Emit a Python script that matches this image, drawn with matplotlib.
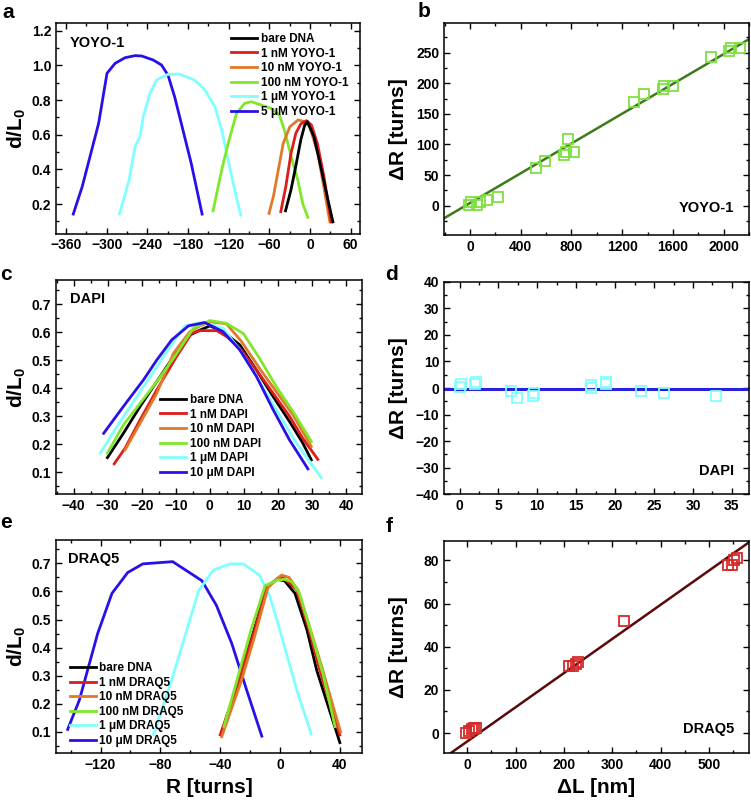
import matplotlib
matplotlib.use("Agg")
import matplotlib.pyplot as plt
from matplotlib.ticker import MultipleLocator

plt.rcParams['font.family'] = ['Liberation Sans', 'DejaVu Sans']
plt.rcParams['font.weight'] = 'bold'
plt.rcParams['mathtext.fontset'] = 'custom'
plt.rcParams['mathtext.rm'] = 'Liberation Sans:bold'
plt.rcParams['mathtext.bf'] = 'Liberation Sans:bold'
plt.rcParams['mathtext.default'] = 'bf'

# ---------------- Panel a : YOYO-1 ----------------
yoyo_labels = ["bare DNA", "1 nM YOYO-1", "10 nM YOYO-1", "100 nM YOYO-1", "1 \u03bcM YOYO-1", "5 \u03bcM YOYO-1"]
yoyo_bare_R = [-36, -28, -21, -13.5, -7.6, -3.7, 6, 16, 25.6, 34]
yoyo_bare_d = [0.161, 0.281, 0.415, 0.569, 0.656, 0.675, 0.588, 0.415, 0.242, 0.097]
yoyo_1nM_R = [-43, -35.6, -28, -20.8, -13.5, -5.1, 2.2, 11, 20.8, 31.5]
yoyo_1nM_d = [0.156, 0.30, 0.49, 0.608, 0.662, 0.681, 0.656, 0.55, 0.357, 0.097]
yoyo_10nM_R = [-60.4, -54, -46.7, -39.4, -29.6, -17.4, -7.6, -0.3, 11.9, 29.5]
yoyo_10nM_d = [0.146, 0.242, 0.396, 0.55, 0.646, 0.685, 0.675, 0.646, 0.49, 0.097]
yoyo_100nM_R = [-143, -130.3, -120.7, -108.4, -96.3, -86.6, -57.3, -45, -37.7, -25, -17.8, -10.4, -3.1]
yoyo_100nM_d = [0.161, 0.396, 0.55, 0.723, 0.781, 0.79, 0.752, 0.713, 0.627, 0.435, 0.338, 0.20, 0.123]
yoyo_1uM_R = [-281.3, -267.1, -258.3, -251, -246.1, -236.3, -226.5, -209.6, -192.4, -170.5, -155.9, -140.2, -130.3, -120.7, -111.1, -102.2]
yoyo_1uM_d = [0.142, 0.338, 0.531, 0.589, 0.704, 0.838, 0.915, 0.948, 0.95, 0.915, 0.862, 0.761, 0.627, 0.454, 0.281, 0.136]
yoyo_5uM_R = [-349.5, -336.3, -312, -299.7, -287.6, -273, -258.3, -248.5, -231.5, -219.2, -209.6, -199.8, -190, -175.3, -159.2]
yoyo_5uM_d = [0.142, 0.30, 0.666, 0.954, 1.012, 1.044, 1.056, 1.054, 1.031, 1.002, 0.944, 0.819, 0.666, 0.435, 0.142]

# ---------------- Panel b : YOYO-1 dR vs dL ----------------
yoyo_dL = [-8, 5, 58, 79, 136, 220, 520, 590, 740, 756, 772, 824, 1297, 1373, 1520, 1533, 1601, 1898, 2042, 2058, 2126]
yoyo_dR = [1, 6.5, 0.5, 6.5, 9, 14.7, 62, 73.5, 83, 87, 109, 87, 169, 182, 190.6, 196, 196, 243, 252, 257, 257]
yoyo_fit_x = [-205, 2200]
yoyo_fit_y = [-20.7, 272]

# ---------------- Panel c : DAPI ----------------
dapi_labels = ["bare DNA", "1 nM DAPI", "10 nM DAPI", "100 nM DAPI", "1 \u03bcM DAPI", "10 \u03bcM DAPI"]
dapi_bare_R = [-30.1, -25.4, -20.5, -15.6, -10.7, -5.9, -2.9, 0, 3.9, 8.8, 13.7, 18.6, 23.4, 27.3, 29.8]
dapi_bare_d = [0.152, 0.239, 0.335, 0.424, 0.513, 0.59, 0.608, 0.623, 0.602, 0.555, 0.465, 0.37, 0.281, 0.204, 0.144]
dapi_1nM_R = [-28.1, -24.9, -20.5, -15.6, -9.8, -5.4, -2.9, 2, 4.9, 8.8, 13.7, 23.4, 27.3, 31.7]
dapi_1nM_d = [0.13, 0.186, 0.287, 0.394, 0.513, 0.596, 0.606, 0.606, 0.585, 0.543, 0.465, 0.30, 0.221, 0.146]
dapi_10nM_R = [-24.9, -20.5, -15.6, -10.7, -5.9, -2.9, 0, 4.9, 9.3, 14.6, 19.5, 24.4, 29.8]
dapi_10nM_d = [0.18, 0.275, 0.382, 0.525, 0.602, 0.623, 0.638, 0.63, 0.567, 0.471, 0.388, 0.305, 0.192]
dapi_100nM_R = [-30.1, -25.4, -20.5, -15.6, -10.7, -4.9, 0, 4.9, 9.8, 14.6, 19.5, 24.4, 29.8]
dapi_100nM_d = [0.168, 0.269, 0.346, 0.424, 0.507, 0.614, 0.642, 0.632, 0.596, 0.507, 0.406, 0.317, 0.21]
dapi_1uM_R = [-32.2, -27.3, -21.5, -15.6, -11.7, -7.3, -2, 3.9, 8.8, 13.7, 19.5, 25.4, 32.7]
dapi_1uM_d = [0.168, 0.263, 0.37, 0.477, 0.549, 0.623, 0.636, 0.614, 0.537, 0.442, 0.323, 0.204, 0.081]
dapi_10uM_R = [-31.2, -25.4, -19.5, -15.6, -11.2, -6.3, -1.5, 3.9, 8.8, 13.7, 18.6, 23.4, 28.8]
dapi_10uM_d = [0.239, 0.335, 0.43, 0.501, 0.573, 0.623, 0.635, 0.602, 0.537, 0.442, 0.323, 0.215, 0.112]

# ---------------- Panel d : DAPI dR vs dL ----------------
dapi_dL = [0.1, 0.2, 2.0, 2.1, 6.6, 7.4, 9.4, 9.6, 16.9, 16.9, 18.8, 18.8, 23.3, 26.3, 32.9]
dapi_dR = [0.5, 1.4, 1.4, 2.1, -1.1, -3.9, -3, -2, 0.1, 1.1, 1.4, 2.1, -1, -2, -3]
dapi_fit_x = [-2, 37]
dapi_fit_y = [-0.5, -0.5]

# ---------------- Panel e : DRAQ5 ----------------
draq_labels = ["bare DNA", "1 nM DRAQ5", "10 nM DRAQ5", "100 nM DRAQ5", "1 \u03bcM DRAQ5", "10 \u03bcM DRAQ5"]
draq_bare_R = [-39, -27, -18, -9, -2, 3, 10, 18, 24.5, 33, 40]
draq_bare_d = [0.097, 0.296, 0.451, 0.617, 0.643, 0.638, 0.593, 0.463, 0.32, 0.178, 0.062]
draq_1nM_R = [-40, -27, -18, -9, -2, 2, 11, 19, 26, 34, 40]
draq_1nM_d = [0.09, 0.29, 0.445, 0.61, 0.645, 0.649, 0.607, 0.47, 0.33, 0.19, 0.089]
draq_10nM_R = [-39, -26, -17, -8, -1, 1, 6, 12, 20, 28, 35, 40.5]
draq_10nM_d = [0.083, 0.28, 0.44, 0.615, 0.65, 0.658, 0.65, 0.605, 0.47, 0.33, 0.2, 0.1]
draq_100nM_R = [-37.5, -28, -19, -10, -2, 3, 8, 13, 21, 29, 36.8]
draq_100nM_d = [0.119, 0.3, 0.47, 0.62, 0.64, 0.643, 0.635, 0.593, 0.45, 0.3, 0.119]
draq_1uM_R = [-84.5, -71.8, -54.4, -44.6, -33.4, -24.5, -13.8, -6.7, 1.1, 11.2, 20.7]
draq_1uM_d = [0.092, 0.296, 0.603, 0.676, 0.698, 0.698, 0.658, 0.581, 0.439, 0.249, 0.095]
draq_10uM_R = [-142, -134.2, -121.9, -112.4, -101.9, -91.8, -71.8, -52.2, -42.5, -32.3, -22.3, -12.2]
draq_10uM_d = [0.109, 0.213, 0.451, 0.593, 0.667, 0.698, 0.706, 0.638, 0.55, 0.415, 0.249, 0.085]

# ---------------- Panel f : DRAQ5 dR vs dL ----------------
draq_dL = [-3, 4, 10, 14.5, 18, 211, 219, 225, 230, 325, 540, 547, 552, 559]
draq_dR = [0, 1, 1.7, 2.3, 2.3, 31, 31, 32, 32.7, 52, 78, 78, 80, 81]
draq_fit_x = [-48, 590]
draq_fit_y = [-11.5, 89.5]

series_colors = ["#000000", "#dd1c1c", "#e07a2a", "#7fe82a", "#80ffff", "#2a10e8"]

W, H = 751, 802
fig = plt.figure(figsize=(W / 100, H / 100), dpi=100)


def add_ax(l, r, t, b):
    return fig.add_axes([l / W, 1 - b / H, (r - l) / W, (b - t) / H])


def style(ax, xmaj, xmin, ymaj, ymin):
    ax.xaxis.set_major_locator(MultipleLocator(xmaj))
    ax.xaxis.set_minor_locator(MultipleLocator(xmin))
    ax.yaxis.set_major_locator(MultipleLocator(ymaj))
    ax.yaxis.set_minor_locator(MultipleLocator(ymin))
    ax.tick_params(which='both', direction='in', top=True, right=True, width=1.0,
                   labelsize=10)
    ax.tick_params(which='major', length=4.5)
    ax.tick_params(which='minor', length=2.5)
    for s in ax.spines.values():
        s.set_linewidth(1.1)
    for lab in ax.get_xticklabels() + ax.get_yticklabels():
        lab.set_fontweight('bold')


LEFT_YL = -0.092
RIGHT_YL = -0.118
XL = -0.118

# Panel a
axa = add_ax(56, 360, 22.7, 233.5)
curves_a = [(yoyo_bare_R, yoyo_bare_d), (yoyo_1nM_R, yoyo_1nM_d), (yoyo_10nM_R, yoyo_10nM_d),
            (yoyo_100nM_R, yoyo_100nM_d), (yoyo_1uM_R, yoyo_1uM_d), (yoyo_5uM_R, yoyo_5uM_d)]
handles = {}
for i in [5, 4, 3, 2, 1, 0]:
    h, = axa.plot(curves_a[i][0], curves_a[i][1], color=series_colors[i], lw=2.0)
    handles[i] = h
axa.set_xlim(-375, 74)
axa.set_ylim(0.03, 1.246)
style(axa, 60, 30, 0.2, 0.1)
axa.set_ylabel("d/L$_0$", fontsize=15, fontweight='bold')
axa.yaxis.set_label_coords(LEFT_YL, 0.5)
axa.text(0.046, 0.906, "YOYO-1", transform=axa.transAxes, fontsize=10.5, fontweight='bold', va='center')
axa.legend([handles[i] for i in range(6)], yoyo_labels, loc='upper right', bbox_to_anchor=(0.985, 0.985),
           frameon=False, prop={'weight': 'bold', 'size': 8.5}, handlelength=2.2, handletextpad=0.3,
           labelspacing=0.22, borderaxespad=0.2)

# Panel b
axb = add_ax(444, 749, 22.7, 235)
axb.plot(yoyo_fit_x, yoyo_fit_y, color="#3c7a1a", lw=1.8, zorder=2)
axb.plot(yoyo_dL, yoyo_dR, 's', mfc='none', mec="#80e040", ms=7, mew=1.3, zorder=3)
axb.set_xlim(-205, 2200)
axb.set_ylim(-48, 299)
style(axb, 400, 200, 50, 25)
axb.set_ylabel("\u0394R [turns]", fontsize=15, fontweight='bold')
axb.yaxis.set_label_coords(RIGHT_YL, 0.5)
axb.text(0.95, 0.126, "YOYO-1", transform=axb.transAxes, fontsize=10.5, fontweight='bold', va='center', ha='right')

# Panel c
axc = add_ax(56, 361.7, 280, 494.3)
curves_c = [(dapi_bare_R, dapi_bare_d), (dapi_1nM_R, dapi_1nM_d), (dapi_10nM_R, dapi_10nM_d),
            (dapi_100nM_R, dapi_100nM_d), (dapi_1uM_R, dapi_1uM_d), (dapi_10uM_R, dapi_10uM_d)]
handles = {}
for i in [0, 1, 2, 3, 4, 5]:
    h, = axc.plot(curves_c[i][0], curves_c[i][1], color=series_colors[i], lw=2.0)
    handles[i] = h
axc.set_xlim(-45.2, 44.6)
axc.set_ylim(0.021, 0.787)
style(axc, 10, 5, 0.1, 0.05)
axc.set_ylabel("d/L$_0$", fontsize=15, fontweight='bold')
axc.yaxis.set_label_coords(LEFT_YL, 0.5)
axc.text(0.046, 0.911, "DAPI", transform=axc.transAxes, fontsize=10.5, fontweight='bold', va='center')
axc.legend([handles[i] for i in range(6)], dapi_labels, loc='upper left', bbox_to_anchor=(0.325, 0.49),
           frameon=False, prop={'weight': 'bold', 'size': 8.5}, handlelength=2.2, handletextpad=0.3,
           labelspacing=0.22, borderaxespad=0.0)

# Panel d
axd = add_ax(444, 749, 281.7, 494.3)
axd.plot(dapi_fit_x, dapi_fit_y, color="#2a20e0", lw=2.2, zorder=2)
axd.plot(dapi_dL, dapi_dR, 's', mfc='none', mec="#80ffff", ms=7, mew=1.3, zorder=3)
axd.set_xlim(-2, 37.2)
axd.set_ylim(-40, 40)
style(axd, 5, 2.5, 10, 5)
axd.set_ylabel("\u0394R [turns]", fontsize=15, fontweight='bold')
axd.yaxis.set_label_coords(RIGHT_YL, 0.5)
axd.text(0.95, 0.11, "DAPI", transform=axd.transAxes, fontsize=10.5, fontweight='bold', va='center', ha='right')

# Panel e
axe = add_ax(56, 362.3, 540, 753.3)
curves_e = [(draq_bare_R, draq_bare_d), (draq_1nM_R, draq_1nM_d), (draq_10nM_R, draq_10nM_d),
            (draq_100nM_R, draq_100nM_d), (draq_1uM_R, draq_1uM_d), (draq_10uM_R, draq_10uM_d)]
handles = {}
for i in [5, 4, 0, 1, 2, 3]:
    h, = axe.plot(curves_e[i][0], curves_e[i][1], color=series_colors[i], lw=2.0)
    handles[i] = h
axe.set_xlim(-149.8, 55)
axe.set_ylim(0.024, 0.783)
style(axe, 40, 20, 0.1, 0.05)
axe.set_ylabel("d/L$_0$", fontsize=15, fontweight='bold')
axe.yaxis.set_label_coords(LEFT_YL, 0.5)
axe.set_xlabel("R [turns]", fontsize=15, fontweight='bold')
axe.xaxis.set_label_coords(0.5, XL)
axe.text(0.04, 0.911, "DRAQ5", transform=axe.transAxes, fontsize=10.5, fontweight='bold', va='center')
axe.legend([handles[i] for i in range(6)], draq_labels, loc='upper left', bbox_to_anchor=(0.03, 0.45),
           frameon=False, prop={'weight': 'bold', 'size': 8.5}, handlelength=2.2, handletextpad=0.3,
           labelspacing=0.22, borderaxespad=0.0)

# Panel f
axf = add_ax(444, 749, 541, 753.3)
axf.plot(draq_fit_x, draq_fit_y, color="#5a0a0a", lw=1.8, zorder=2)
axf.plot(draq_dL, draq_dR, 's', mfc='none', mec="#d42a2a", ms=7, mew=1.3, zorder=3)
axf.set_xlim(-48, 583)
axf.set_ylim(-9.4, 89)
style(axf, 100, 50, 20, 10)
axf.set_ylabel("\u0394R [turns]", fontsize=15, fontweight='bold')
axf.yaxis.set_label_coords(RIGHT_YL, 0.5)
axf.set_xlabel("\u0394L [nm]", fontsize=15, fontweight='bold')
axf.xaxis.set_label_coords(0.5, XL)
axf.text(0.95, 0.114, "DRAQ5", transform=axf.transAxes, fontsize=10.5, fontweight='bold', va='center', ha='right')

# Panel letters
for x, y, s in [(2, 18, 'a'), (418, 17, 'b'), (0, 280, 'c'), (385, 280, 'd'), (0, 528, 'e'), (386, 532, 'f')]:
    fig.text(x / W, 1 - y / H, s, fontsize=15, fontweight='bold', va='baseline', ha='left')

fig.savefig("out.png", dpi=100)
